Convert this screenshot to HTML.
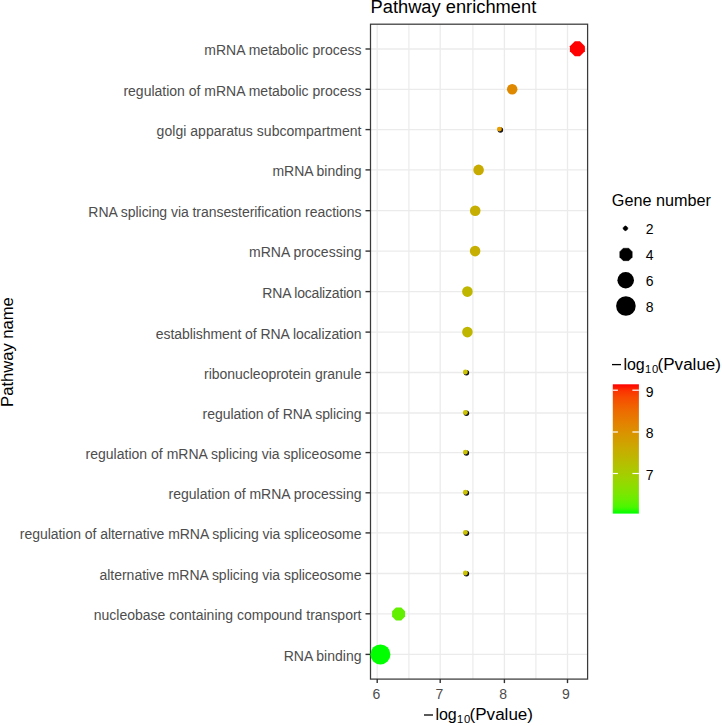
<!DOCTYPE html>
<html><head><meta charset="utf-8"><title>Pathway enrichment</title>
<style>html,body{margin:0;padding:0;background:#fff}svg{display:block}text{font-family:"Liberation Sans",sans-serif}</style></head>
<body>
<svg width="722" height="726" viewBox="0 0 722 726">
<rect width="722" height="726" fill="#fff"/>
<defs><linearGradient id="g" x1="0" y1="0" x2="0" y2="1"><stop offset="0%" stop-color="#FF0000"/><stop offset="5%" stop-color="#FB3300"/><stop offset="10%" stop-color="#F74A00"/><stop offset="15%" stop-color="#F25B00"/><stop offset="20%" stop-color="#ED6A00"/><stop offset="25%" stop-color="#E87600"/><stop offset="30%" stop-color="#E38200"/><stop offset="35%" stop-color="#DD8D00"/><stop offset="40%" stop-color="#D79800"/><stop offset="45%" stop-color="#D0A100"/><stop offset="50%" stop-color="#C9AB00"/><stop offset="55%" stop-color="#C1B400"/><stop offset="60%" stop-color="#B8BD00"/><stop offset="65%" stop-color="#AEC600"/><stop offset="70%" stop-color="#A4CE00"/><stop offset="75%" stop-color="#98D700"/><stop offset="80%" stop-color="#8ADF00"/><stop offset="85%" stop-color="#7AE700"/><stop offset="90%" stop-color="#65EF00"/><stop offset="95%" stop-color="#49F700"/><stop offset="100%" stop-color="#00FF00"/></linearGradient></defs>
<g stroke="#ebebeb" fill="none">
<line x1="408.9" y1="24.2" x2="408.9" y2="679.07" stroke-width="1.2"/>
<line x1="472.9" y1="24.2" x2="472.9" y2="679.07" stroke-width="1.2"/>
<line x1="535.9" y1="24.2" x2="535.9" y2="679.07" stroke-width="1.2"/>
<line x1="377.2" y1="24.2" x2="377.2" y2="679.07" stroke-width="1.3"/>
<line x1="440.2" y1="24.2" x2="440.2" y2="679.07" stroke-width="1.3"/>
<line x1="504.4" y1="24.2" x2="504.4" y2="679.07" stroke-width="1.3"/>
<line x1="567.5" y1="24.2" x2="567.5" y2="679.07" stroke-width="1.3"/>
<line x1="370.5" y1="49.0" x2="587.65" y2="49.0" stroke-width="1.3"/>
<line x1="370.5" y1="89.3" x2="587.65" y2="89.3" stroke-width="1.3"/>
<line x1="370.5" y1="129.6" x2="587.65" y2="129.6" stroke-width="1.3"/>
<line x1="370.5" y1="169.9" x2="587.65" y2="169.9" stroke-width="1.3"/>
<line x1="370.5" y1="210.7" x2="587.65" y2="210.7" stroke-width="1.3"/>
<line x1="370.5" y1="251.1" x2="587.65" y2="251.1" stroke-width="1.3"/>
<line x1="370.5" y1="291.6" x2="587.65" y2="291.6" stroke-width="1.3"/>
<line x1="370.5" y1="332.1" x2="587.65" y2="332.1" stroke-width="1.3"/>
<line x1="370.5" y1="372.5" x2="587.65" y2="372.5" stroke-width="1.3"/>
<line x1="370.5" y1="413.0" x2="587.65" y2="413.0" stroke-width="1.3"/>
<line x1="370.5" y1="452.6" x2="587.65" y2="452.6" stroke-width="1.3"/>
<line x1="370.5" y1="492.8" x2="587.65" y2="492.8" stroke-width="1.3"/>
<line x1="370.5" y1="532.9" x2="587.65" y2="532.9" stroke-width="1.3"/>
<line x1="370.5" y1="573.5" x2="587.65" y2="573.5" stroke-width="1.3"/>
<line x1="370.5" y1="613.8" x2="587.65" y2="613.8" stroke-width="1.3"/>
<line x1="370.5" y1="654.4" x2="587.65" y2="654.4" stroke-width="1.3"/>
</g>
<rect x="370.5" y="24.2" width="217.1" height="654.9" fill="none" stroke="#3a3a3a" stroke-width="1.25"/>
<g stroke="#333" stroke-width="1.4">
<line x1="377.2" y1="679.07" x2="377.2" y2="683.1"/>
<line x1="440.2" y1="679.07" x2="440.2" y2="683.1"/>
<line x1="504.4" y1="679.07" x2="504.4" y2="683.1"/>
<line x1="567.5" y1="679.07" x2="567.5" y2="683.1"/>
<line x1="365.5" y1="49.0" x2="370.5" y2="49.0"/>
<line x1="365.5" y1="89.3" x2="370.5" y2="89.3"/>
<line x1="365.5" y1="129.6" x2="370.5" y2="129.6"/>
<line x1="365.5" y1="169.9" x2="370.5" y2="169.9"/>
<line x1="365.5" y1="210.7" x2="370.5" y2="210.7"/>
<line x1="365.5" y1="251.1" x2="370.5" y2="251.1"/>
<line x1="365.5" y1="291.6" x2="370.5" y2="291.6"/>
<line x1="365.5" y1="332.1" x2="370.5" y2="332.1"/>
<line x1="365.5" y1="372.5" x2="370.5" y2="372.5"/>
<line x1="365.5" y1="413.0" x2="370.5" y2="413.0"/>
<line x1="365.5" y1="452.6" x2="370.5" y2="452.6"/>
<line x1="365.5" y1="492.8" x2="370.5" y2="492.8"/>
<line x1="365.5" y1="532.9" x2="370.5" y2="532.9"/>
<line x1="365.5" y1="573.5" x2="370.5" y2="573.5"/>
<line x1="365.5" y1="613.8" x2="370.5" y2="613.8"/>
<line x1="365.5" y1="654.4" x2="370.5" y2="654.4"/>
</g>
<polygon points="574.89,41.35 579.91,41.35 584.90,46.34 584.90,51.36 579.91,56.35 574.89,56.35 569.90,51.36 569.90,46.34" fill="#FF0100"/>
<circle cx="512.2" cy="89.3" r="5.25" fill="#DF8900"/>
<circle cx="500.4" cy="129.9" r="2.75" fill="#15151f"/>
<circle cx="499.4" cy="129.1" r="2.45" fill="#E7A000"/>
<circle cx="478.6" cy="169.9" r="5.30" fill="#C8AB00"/>
<circle cx="475.2" cy="210.7" r="5.30" fill="#C6AF00"/>
<circle cx="475.1" cy="251.1" r="5.30" fill="#C6AF00"/>
<circle cx="467.4" cy="291.6" r="5.30" fill="#BFB600"/>
<circle cx="467.4" cy="332.1" r="5.30" fill="#BFB600"/>
<circle cx="466.4" cy="372.8" r="2.75" fill="#15151f"/>
<circle cx="465.4" cy="372.0" r="2.45" fill="#CBC300"/>
<circle cx="466.4" cy="413.3" r="2.75" fill="#15151f"/>
<circle cx="465.4" cy="412.5" r="2.45" fill="#CBC300"/>
<circle cx="466.4" cy="452.9" r="2.75" fill="#15151f"/>
<circle cx="465.4" cy="452.1" r="2.45" fill="#CBC300"/>
<circle cx="466.4" cy="493.1" r="2.75" fill="#15151f"/>
<circle cx="465.4" cy="492.3" r="2.45" fill="#CBC300"/>
<circle cx="466.4" cy="533.2" r="2.75" fill="#15151f"/>
<circle cx="465.4" cy="532.4" r="2.45" fill="#CBC300"/>
<circle cx="466.4" cy="573.8" r="2.75" fill="#15151f"/>
<circle cx="465.4" cy="573.0" r="2.45" fill="#CBC300"/>
<polygon points="395.91,607.40 401.29,607.40 405.10,611.21 405.10,616.59 401.29,620.40 395.91,620.40 392.10,616.59 392.10,611.21" fill="#62F000"/>
<circle cx="380.4" cy="654.4" r="10.00" fill="#01FF00"/>
<g font-size="14" fill="#4d4d4d" text-anchor="end">
<text x="361.5" y="55.4" textLength="157.17" lengthAdjust="spacing">mRNA metabolic process</text>
<text x="361.5" y="95.7" textLength="238.11" lengthAdjust="spacing">regulation of mRNA metabolic process</text>
<text x="361.5" y="136.0" textLength="204.91" lengthAdjust="spacing">golgi apparatus subcompartment</text>
<text x="361.5" y="176.3" textLength="89.00" lengthAdjust="spacing">mRNA binding</text>
<text x="361.5" y="217.1" textLength="273.17" lengthAdjust="spacing">RNA splicing via transesterification reactions</text>
<text x="361.5" y="257.4" textLength="112.55" lengthAdjust="spacing">mRNA processing</text>
<text x="361.5" y="298.0" textLength="99.24" lengthAdjust="spacing">RNA localization</text>
<text x="361.5" y="338.5" textLength="205.78" lengthAdjust="spacing">establishment of RNA localization</text>
<text x="361.5" y="378.9" textLength="157.50" lengthAdjust="spacing">ribonucleoprotein granule</text>
<text x="361.5" y="419.4" textLength="158.91" lengthAdjust="spacing">regulation of RNA splicing</text>
<text x="361.5" y="459.0" textLength="275.97" lengthAdjust="spacing">regulation of mRNA splicing via spliceosome</text>
<text x="361.5" y="499.2" textLength="193.00" lengthAdjust="spacing">regulation of mRNA processing</text>
<text x="361.5" y="539.3" textLength="341.65" lengthAdjust="spacing">regulation of alternative mRNA splicing via spliceosome</text>
<text x="361.5" y="579.9" textLength="262.00" lengthAdjust="spacing">alternative mRNA splicing via spliceosome</text>
<text x="361.5" y="620.2" textLength="267.75" lengthAdjust="spacing">nucleobase containing compound transport</text>
<text x="361.5" y="660.8" textLength="77.83" lengthAdjust="spacing">RNA binding</text>
</g>
<g font-size="14" fill="#4d4d4d" text-anchor="middle">
<text x="376.3" y="698.8">6</text>
<text x="439.3" y="698.8">7</text>
<text x="503.2" y="698.8">8</text>
<text x="565.9" y="698.8">9</text>
</g>
<text x="370.5" y="13.4" font-size="18" fill="#000" textLength="165.8" lengthAdjust="spacingAndGlyphs">Pathway enrichment</text>
<line x1="424.0" y1="715.0" x2="433.0" y2="715.0" stroke="#000" stroke-width="1.3"/>
<text x="435.4" y="720.0" font-size="16" fill="#000">log</text>
<text x="457.1" y="723.2" font-size="11.2" fill="#000" textLength="13.1">10</text>
<text x="469.6" y="720.0" font-size="16" fill="#000" textLength="63.4" lengthAdjust="spacingAndGlyphs">(Pvalue)</text>
<text transform="translate(13.4,406.9) rotate(-90)" font-size="16.2" fill="#000" textLength="109.7" lengthAdjust="spacingAndGlyphs">Pathway name</text>
<text x="611.8" y="205.6" font-size="16" fill="#000" textLength="99.1" lengthAdjust="spacingAndGlyphs">Gene number</text>
<polygon points="624.86,225.95 626.04,225.95 627.80,227.71 627.80,228.89 626.04,230.65 624.86,230.65 623.10,228.89 623.10,227.71" fill="#000" stroke="#000" stroke-width="0.5" stroke-linejoin="round"/>
<text x="645.7" y="234.1" font-size="14" fill="#000">2</text>
<polygon points="623.27,248.25 628.73,248.25 632.20,251.72 632.20,257.18 628.73,260.65 623.27,260.65 619.80,257.18 619.80,251.72" fill="#000" stroke="#000" stroke-width="0.5" stroke-linejoin="round"/>
<text x="645.7" y="260.2" font-size="14" fill="#000">4</text>
<circle cx="625.7" cy="280.25" r="8.30" fill="#000"/>
<text x="645.7" y="286.1" font-size="14" fill="#000">6</text>
<circle cx="625.9" cy="306.0" r="9.80" fill="#000"/>
<text x="645.7" y="311.8" font-size="14" fill="#000">8</text>
<line x1="612.0" y1="364.6" x2="621.0" y2="364.6" stroke="#000" stroke-width="1.3"/>
<text x="623.4" y="369.6" font-size="16" fill="#000">log</text>
<text x="645.1" y="372.8" font-size="11.2" fill="#000" textLength="13.1">10</text>
<text x="657.6" y="369.6" font-size="16" fill="#000" textLength="63.4" lengthAdjust="spacingAndGlyphs">(Pvalue)</text>
<rect x="612.8" y="384.3" width="26.1" height="129.3" fill="url(#g)"/>
<g stroke="#fff" stroke-width="1.2">
<line x1="612.8" y1="390.2" x2="617.9" y2="390.2"/><line x1="632.4" y1="390.2" x2="638.9" y2="390.2"/>
<line x1="612.8" y1="432.0" x2="617.9" y2="432.0"/><line x1="632.4" y1="432.0" x2="638.9" y2="432.0"/>
<line x1="612.8" y1="473.5" x2="617.9" y2="473.5"/><line x1="632.4" y1="473.5" x2="638.9" y2="473.5"/>
</g>
<text x="645.7" y="396.9" font-size="14" fill="#000">9</text>
<text x="645.7" y="437.8" font-size="14" fill="#000">8</text>
<text x="645.7" y="479.7" font-size="14" fill="#000">7</text>
</svg></body></html>
